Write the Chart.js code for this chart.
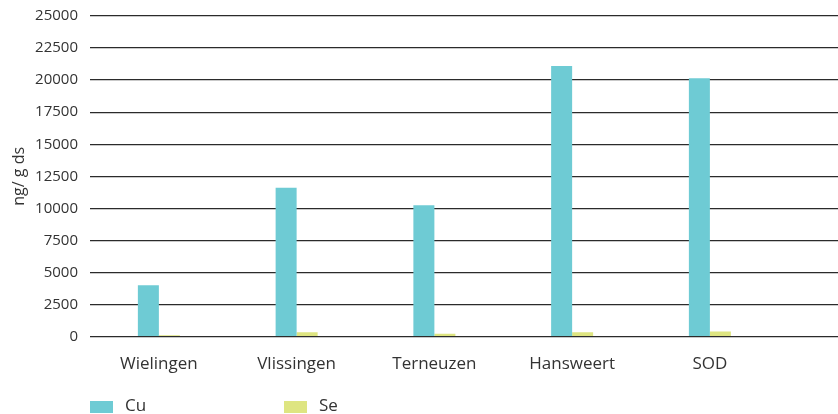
<!DOCTYPE html>
<html>
<head>
<meta charset="utf-8">
<script src="https://cdn.jsdelivr.net/npm/chart.js@4"></script>
<style>
  body { margin: 0; background: #fff; }
  #wrap { position: relative; width: 838px; height: 414px; overflow: hidden; }
  #legend { position: absolute; left: 0; top: 396px; font-family: "Open Sans", sans-serif; font-size: 17px; color: #333; }
  .item { position: absolute; top: 0; white-space: nowrap; }
  .box { position: absolute; top: 5px; width: 23px; height: 12px; }
  .lbl { position: absolute; left: 35px; top: -3px; }
</style>
</head>
<body>
<div id="wrap">
  <canvas id="myChart" width="838" height="414"></canvas>
  <div id="legend"></div>
</div>
<script>
var locations = ['Wielingen', 'Vlissingen', 'Terneuzen', 'Hansweert', 'SOD'];
var cu_values = [4000, 11600, 10250, 21100, 20150];
var se_values = [110, 330, 230, 330, 400];
var y_ticks = [0, 2500, 5000, 7500, 10000, 12500, 15000, 17500, 20000, 22500, 25000];

var cu_color = '#6ecbd4';
var se_color = '#dee581';
var text_color = '#333333';

function toPoints(values) {
    return values.map(function (v, i) { return { x: i, y: v }; });
}

const ctx = document.getElementById('myChart');

new Chart(ctx, {
    type: 'bar',
    data: {
        datasets: [
            {
                label: 'Cu',
                data: toPoints(cu_values),
                backgroundColor: cu_color,
                categoryPercentage: 0.305,
                barPercentage: 1
            },
            {
                label: 'Se',
                data: toPoints(se_values),
                backgroundColor: se_color,
                categoryPercentage: 0.305,
                barPercentage: 1
            }
        ]
    },
    options: {
        responsive: false,
        animation: false,
        layout: { padding: { top: 16, right: 0, bottom: 31, left: 0 } },
        plugins: {
            legend: { display: false },
            tooltip: { enabled: false }
        },
        scales: {
            x: {
                type: 'linear',
                offset: false,
                min: -0.5,
                max: 4.93,
                grid: { display: false },
                border: { display: false },
                ticks: {
                    stepSize: 1,
                    includeBounds: false,
                    autoSkip: false,
                    maxRotation: 0,
                    padding: 9,
                    color: text_color,
                    font: { family: 'Open Sans', size: 17 },
                    callback: function (value) {
                        return Number.isInteger(value) && locations[value] !== undefined ? locations[value] : '';
                    }
                }
            },
            y: {
                min: 0,
                max: 25000,
                afterFit: function (scale) {
                    scale.width = 90;
                    scale.paddingTop = 0;
                },
                afterBuildTicks: function (scale) {
                    scale.ticks = y_ticks.map(function (v) { return { value: v }; });
                },
                border: { display: false },
                grid: { color: '#2b2b2b', lineWidth: 1.3, drawTicks: false },
                ticks: {
                    padding: 12,
                    color: text_color,
                    font: { family: 'Open Sans', size: 15 },
                    callback: function (value) { return String(value); }
                },
                title: {
                    display: true,
                    text: 'ng/ g ds',
                    color: text_color,
                    font: { family: 'Open Sans', size: 16 },
                    padding: { top: 10, bottom: 4 }
                }
            }
        }
    }
});

// legend under the chart, built from the same series
var legend = document.getElementById('legend');
var legend_items = [['Cu', cu_color, 90], ['Se', se_color, 284]];
legend_items.forEach(function (it) {
    var d = document.createElement('div');
    d.className = 'item';
    d.style.left = it[2] + 'px';
    d.innerHTML = '<span class="box" style="background:' + it[1] + '"></span><span class="lbl">' + it[0] + '</span>';
    legend.appendChild(d);
});
</script>
</body>
</html>
